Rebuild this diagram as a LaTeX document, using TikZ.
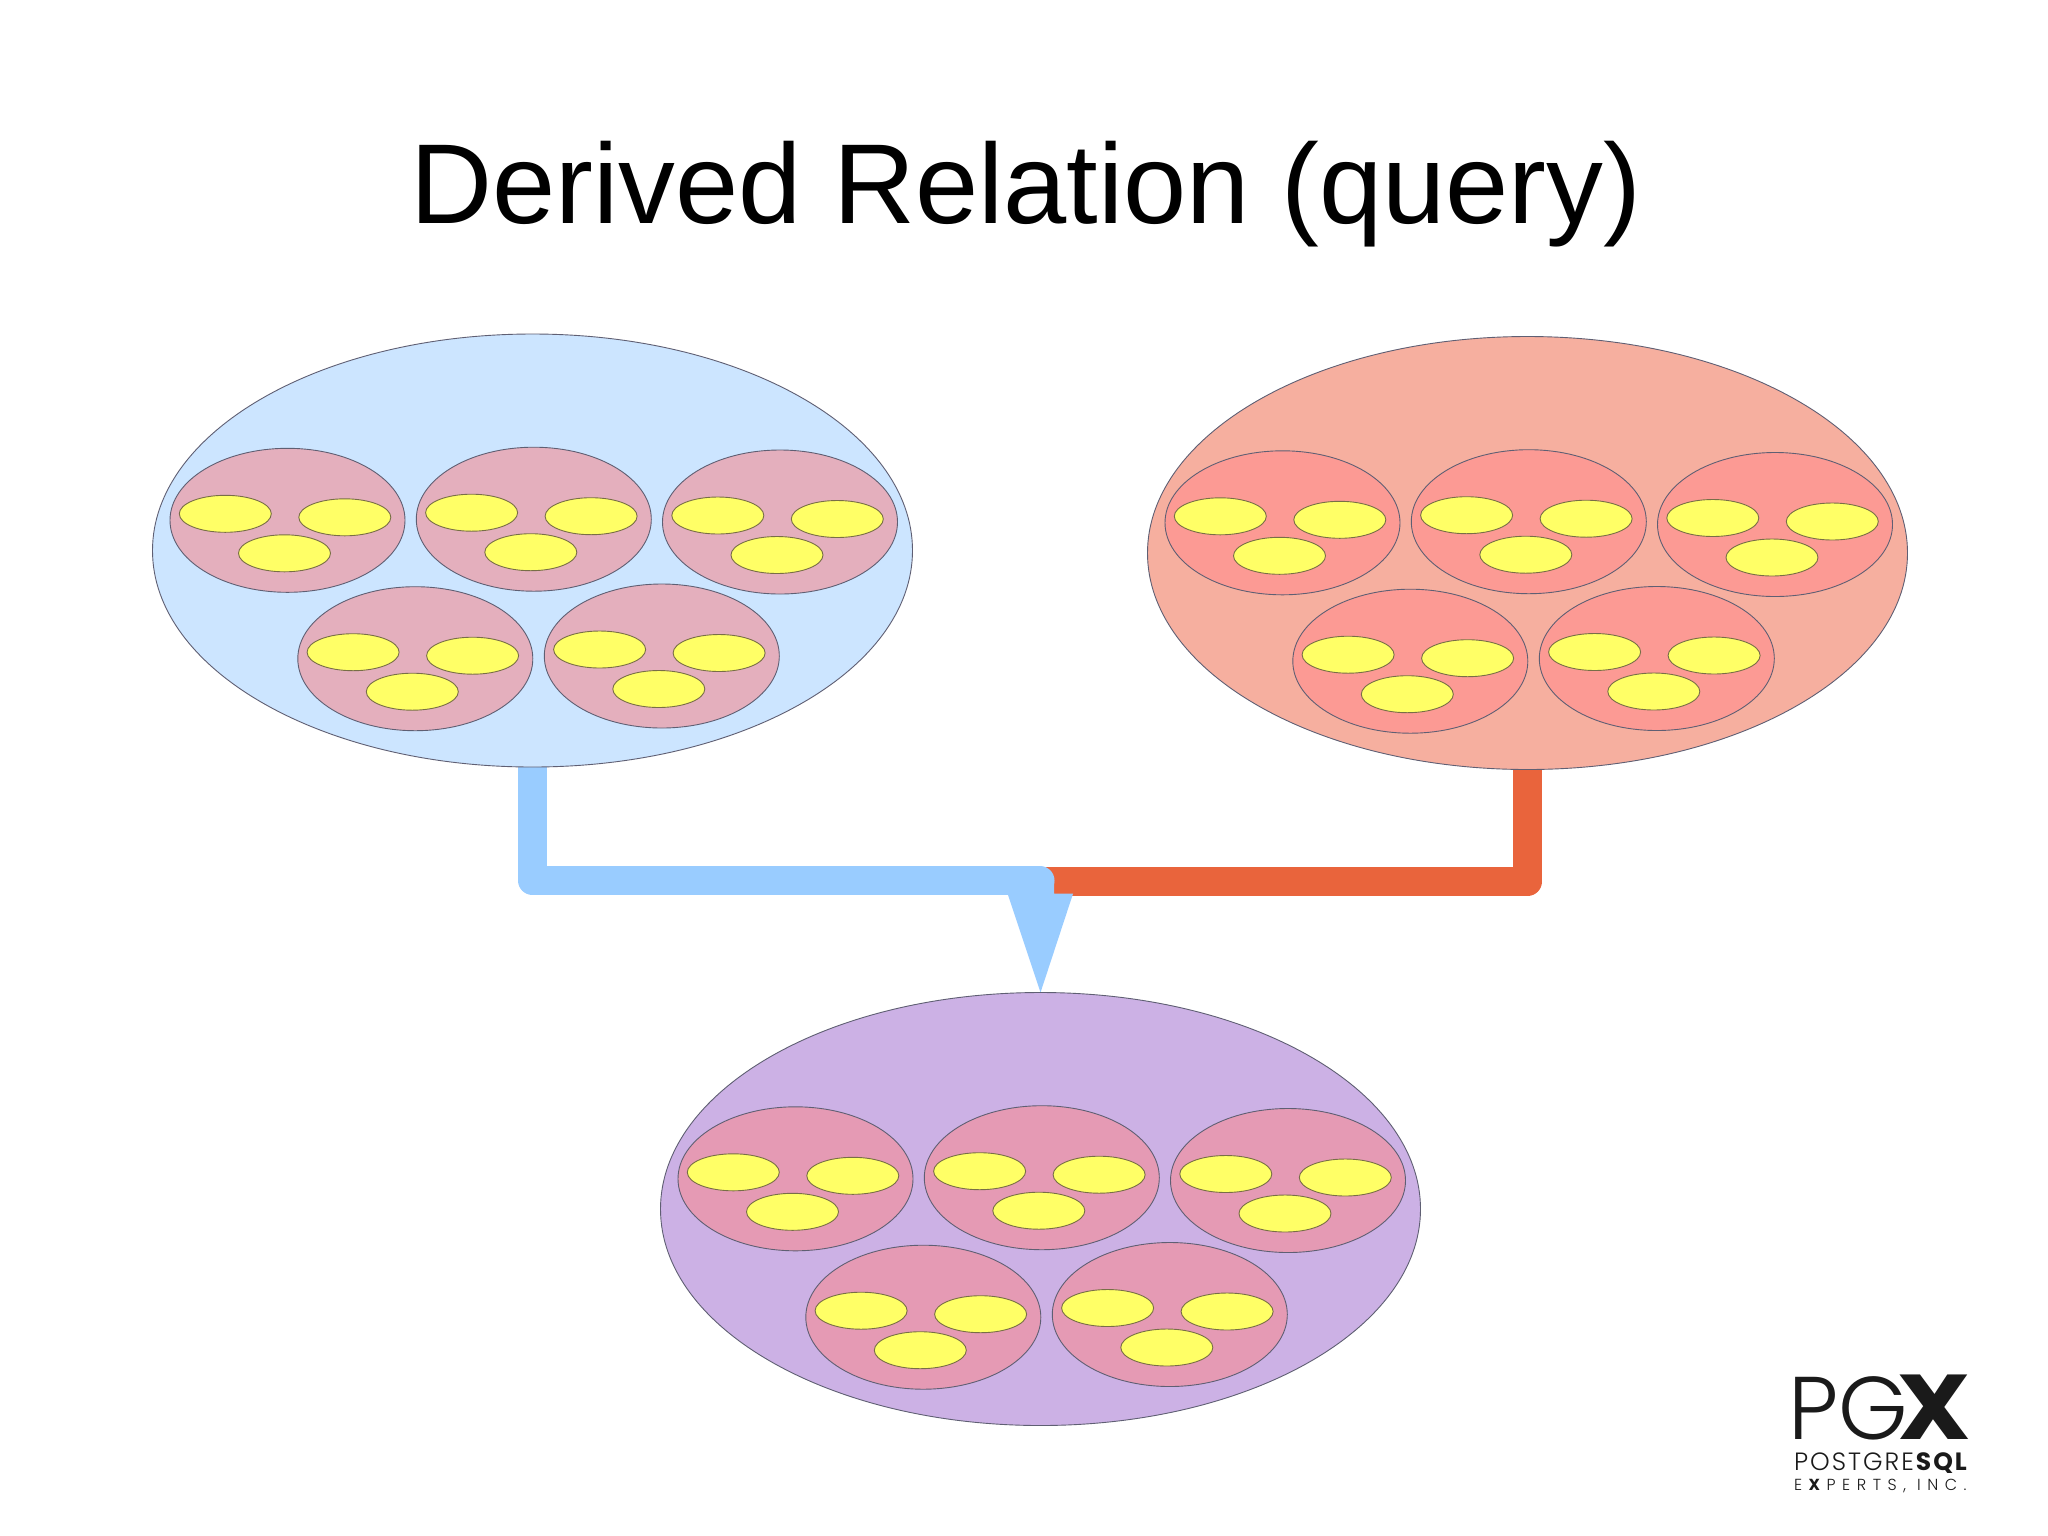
\documentclass[tikz,border=0pt]{standalone}
\usepackage{fontspec}
\usetikzlibrary{shapes.geometric,calc,backgrounds}
\setmainfont{Liberation Sans}
\newfontfamily\logofont{Poppins Light}[BoldFont=Poppins Bold]
\definecolor{bluebig}{RGB}{204,229,255}
\definecolor{bluemed}{RGB}{228,175,189}
\definecolor{redbig}{RGB}{246,175,159}
\definecolor{redmed}{RGB}{252,154,148}
\definecolor{purbig}{RGB}{204,177,229}
\definecolor{purmed}{RGB}{229,154,180}
\definecolor{yel}{RGB}{255,255,102}
\definecolor{linkblue}{RGB}{153,204,255}
\definecolor{linkred}{RGB}{233,100,60}
\definecolor{edge}{RGB}{95,95,115}
\definecolor{yeledge}{RGB}{120,110,70}
\definecolor{inkk}{RGB}{26,26,26}
\tikzset{
  ell/.style={ellipse,draw=edge,line width=0.9pt,inner sep=0pt,outer sep=0pt},
  bigell/.style={ell,minimum width=760pt,minimum height=433pt},
  medell/.style={ell,minimum width=235pt,minimum height=144pt},
  yelell/.style={ell,fill=yel,draw=yeledge,minimum width=92pt,minimum height=37pt},
  link/.style={line width=29pt,line join=round,line cap=butt},
  logotext/.style={anchor=base west,inner sep=0pt,outer sep=0pt,text=inkk},
  pagetitle/.style={anchor=base,inner sep=0pt,font=\fontsize{113.6}{114}\selectfont,text=black}
}
\newcommand{\medgroup}[5]{%
  \node[medell,fill=#5] (#1) at ($(#2)+(#3,#4)$) {};
  \node[yelell] (#1-l) at ($(#1)+(-62.2,-6.5)$) {};
  \node[yelell] (#1-r) at ($(#1)+(57.3,-3)$) {};
  \node[yelell] (#1-b) at ($(#1)+(-3,33)$) {};
}
\newcommand{\relation}[5]{%
  \node[bigell,fill=#4] (#1) at (#2,#3) {};
  \medgroup{#1-a}{#1}{-245}{-30.2}{#5}
  \medgroup{#1-b}{#1}{1.3}{-31.3}{#5}
  \medgroup{#1-c}{#1}{247.5}{-28.5}{#5}
  \medgroup{#1-d}{#1}{-117.2}{108.2}{#5}
  \medgroup{#1-e}{#1}{129.3}{105.5}{#5}
}
\begin{document}
\begin{tikzpicture}[x=1pt,y=-1pt]
\useasboundingbox (0,0) rectangle (2048,1535);
\node[pagetitle] (title) at (1026,223.5) {Derived Relation (query)};

\coordinate (join) at (1040,880.5);
\coordinate (redjoin) at (1040,881.5);
\coordinate (hl) at (1008,895);
\coordinate (hn) at (1054,880.5);
\coordinate (hm) at (1054,893.7);
\coordinate (hr) at (1073,893.7);

\relation{src}{532.5}{550.5}{bluebig}{bluemed}
\relation{oth}{1527.5}{553}{redbig}{redmed}
\relation{res}{1040.5}{1209}{purbig}{purmed}

\begin{pgfonlayer}{background}
\fill[white] (0,0) rectangle (2048,1535);
\draw[link,draw=linkred] (oth.south) |- (redjoin);
\draw[link,draw=linkblue,line cap=round] (join) -- ++(-1,0) -| ($(src.south)+(0,-16)$);
\fill[linkblue] (hl) -- (join) -- (hn) -- (hm) -- (hr) -- (res.north) -- cycle;
\end{pgfonlayer}

\node[logotext,font=\logofont\fontsize{89}{89}\selectfont] (lpg) at (1788.5,1439) {PG};
\node[logotext,font=\logofont\bfseries\fontsize{92}{92}\selectfont,xscale=1.12,transform shape] (lx) at (1897,1439) {X};
\node[logotext,font=\logofont\fontsize{25}{25}\selectfont] (lname) at (1794,1470) {\addfontfeature{LetterSpace=8}POSTGRE\textbf{SQL}};
\node[logotext,font=\logofont\fontsize{16}{16}\selectfont] (linc) at (1794,1490) {\addfontfeature{LetterSpace=41}E\textbf{X}PERTS, INC.};
\end{tikzpicture}
\end{document}
